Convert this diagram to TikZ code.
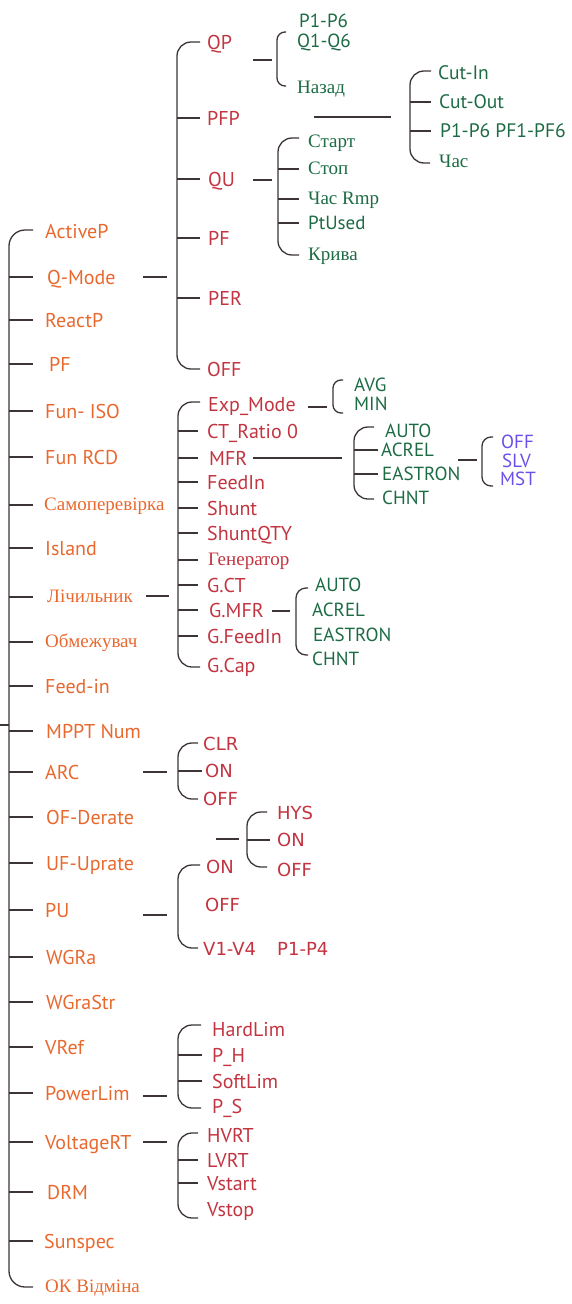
\documentclass[tikz,border=0pt]{standalone}
\usepackage{fontspec}
\setmainfont{PT Sans}
\newfontfamily\menuserif{Liberation Serif}
\newfontfamily\menuwide{DejaVu Sans}

\definecolor{optA}{HTML}{E8682E}
\definecolor{optB}{HTML}{C23440}
\definecolor{optC}{HTML}{1D6B44}
\definecolor{optD}{HTML}{6C4FE8}
\definecolor{brk}{HTML}{3D3535}

\begin{document}
\begin{tikzpicture}[x=1pt, y=-1pt,
    br/.style={draw=brk, line width=1.3pt, rounded corners=14pt},
    tk/.style={draw=brk, line width=1.3pt},
    lbl/.style={anchor=west, inner sep=0pt, text depth=0pt},
    fsans/.style={lbl, font=\fontsize{20}{24}\selectfont, text height=14pt},
    fsmall/.style={lbl, font=\fontsize{19}{23}\selectfont, text height=13.3pt},
    fserif/.style={lbl, font=\menuserif\fontsize{19}{22}\selectfont, text height=10pt},
    fwide/.style={lbl, font=\menuwide\fontsize{18}{22}\selectfont, text height=13pt},
    topitem/.style={fsans, text=optA},
    topserif/.style={fserif, text=optA},
    subitem/.style={fsans, text=optB},
    subserif/.style={fserif, text=optB},
    subwide/.style={fwide, text=optB},
    leaf/.style={fsmall, text=optC},
    leafserif/.style={fserif, text=optC},
    leafpur/.style={fsmall, text=optD}]

    \useasboundingbox (0,0) rectangle (572,1304);

    % top level menu
    \node[topitem] (actp) at (45,231) {ActiveP};
    \node[topitem] (qmode) at (47,277) {Q-Mode};
    \node[topitem] (reactp) at (45,320) {ReactP};
    \node[topitem] (pf) at (49,364) {PF};
    \node[topitem] (funiso) at (45,411) {Fun- ISO};
    \node[topitem] (funrcd) at (45,457) {Fun RCD};
    \node[topserif] (selft) at (44,505) {Самоперевірка};
    \node[topitem] (island) at (45,548) {Island};
    \node[topserif] (meter) at (47,597) {Лічильник};
    \node[topserif] (limit) at (45,642) {Обмежувач};
    \node[topitem] (feedin) at (45,686) {Feed-in};
    \node[topitem] (mppt) at (46,731) {MPPT Num};
    \node[topitem] (arc) at (45,772) {ARC};
    \node[topitem] (ofder) at (46,817) {OF-Derate};
    \node[topitem] (ufup) at (46,863) {UF-Uprate};
    \node[topitem] (pu) at (45,910) {PU};
    \node[topitem] (wgra) at (46,957) {WGRa};
    \node[topitem] (wgrastr) at (46,1002) {WGraStr};
    \node[topitem] (vref) at (45,1047) {VRef};
    \node[topitem] (plim) at (45,1093) {PowerLim};
    \node[topitem] (vrt) at (45,1142) {VoltageRT};
    \node[topitem] (drm) at (47,1192) {DRM};
    \node[topitem] (sunspec) at (44,1241) {Sunspec};
    \node[topserif] (okc) at (45,1287) {ОК Відміна};

    \coordinate (root) at (0,725);
    \coordinate (mbar) at (9,725);
    \coordinate (mT) at (33,230);
    \coordinate (mB) at (33,1287);
    \draw[br, rounded corners=16pt] (mT) -| (mbar |- mB) -- (mB);
    \draw[tk] (root) -- (mbar);
    \draw[tk] (mbar |- qmode.west) -- ++(24,0);
    \draw[tk] (mbar |- reactp.west) -- ++(24,0);
    \draw[tk] (mbar |- pf.west) -- ++(24,0);
    \draw[tk] (mbar |- funiso.west) -- ++(24,0);
    \draw[tk] (mbar |- funrcd.west) -- ++(24,0);
    \draw[tk] (mbar |- selft.west) -- ++(24,0);
    \draw[tk] (mbar |- island.west) -- ++(24,0);
    \draw[tk] (mbar |- meter.west) -- ++(24,0);
    \draw[tk] (mbar |- limit.west) -- ++(24,0);
    \draw[tk] (mbar |- feedin.west) -- ++(24,0);
    \draw[tk] (mbar |- mppt.west) -- ++(24,0);
    \draw[tk] (mbar |- arc.west) -- ++(24,0);
    \draw[tk] (mbar |- ofder.west) -- ++(24,0);
    \draw[tk] (mbar |- ufup.west) -- ++(24,0);
    \draw[tk] (mbar |- pu.west) -- ++(24,0);
    \draw[tk] (mbar |- wgra.west) -- ++(24,0);
    \draw[tk] (mbar |- wgrastr.west) -- ++(24,0);
    \draw[tk] (mbar |- vref.west) -- ++(24,0);
    \draw[tk] (mbar |- plim.west) -- ++(24,0);
    \draw[tk] (mbar |- vrt.west) -- ++(24,0);
    \draw[tk] (mbar |- drm.west) -- ++(24,0);
    \draw[tk] (mbar |- sunspec.west) -- ++(24,0);

    % Q-Mode
    \node[subitem] (qp) at (207,42) {QP};
    \node[subitem] (pfp) at (207,118) {PFP};
    \node[subitem] (qu) at (208,179) {QU};
    \node[subitem] (pfq) at (208,238) {PF};
    \node[subitem] (per) at (208,298) {PER};
    \node[subitem] (offq) at (207,369) {OFF};

    \coordinate (qmbar) at (177,277);
    \coordinate (qmT) at (200,42);
    \coordinate (qmB) at (200,369);
    \draw[tk] (qmbar) ++(-34,0) -- ++(24,0);
    \draw[br] (qmT) -| (qmbar |- qmB) -- (qmB);
    \draw[tk] (qmbar |- pfp.west) -- ++(23,0);
    \draw[tk] (qmbar |- qu.west) -- ++(23,0);
    \draw[tk] (qmbar |- pfq.west) -- ++(23,0);
    \draw[tk] (qmbar |- per.west) -- ++(23,0);

    % QP
    \node[leaf] (p16) at (299,21) {P1-P6};
    \node[leaf] (q16) at (297,41) {Q1-Q6};
    \node[leafserif] (back) at (297,88) {Назад};

    \coordinate (qpbar) at (277,60);
    \coordinate (qpT) at (286,32);
    \coordinate (qpB) at (286,86);
    \draw[tk] (qpbar) ++(-24,0) -- ++(19,0);
    \draw[br, rounded corners=8pt] (qpT) -| (qpbar |- qpB) -- (qpB);

    % PFP
    \node[leaf, font=\fontsize{19.5}{24}\selectfont] (cutin) at (438,73) {Cut-In};
    \node[leaf, font=\fontsize{19.5}{24}\selectfont] (cutout) at (439,102) {Cut-Out};
    \node[leaf, font=\fontsize{19.5}{24}\selectfont] (p6pf6) at (440,131) {P1-P6 PF1-PF6};
    \node[leafserif] (hour) at (439,162) {Час};

    \coordinate (pfpbar) at (410,117);
    \coordinate (pfpT) at (431,71);
    \coordinate (pfpB) at (430,163);
    \draw[tk] (pfpbar) ++(-96,0) -- ++(77,0);
    \draw[br] (pfpT) -| (pfpbar |- pfpB) -- (pfpB);
    \draw[tk] (pfpbar |- cutout.west) -- ++(21,0);
    \draw[tk] (pfpbar |- p6pf6.west) -- ++(21,0);

    % QU
    \node[leafserif] (start) at (308,142) {Старт};
    \node[leafserif] (stop) at (308,169) {Стоп};
    \node[leafserif] (hrmp) at (308,199) {Час Rmp};
    \node[leaf] (ptused) at (308,223) {PtUsed};
    \node[leafserif] (curve) at (308,255) {Крива};

    \coordinate (qubar) at (278,180);
    \coordinate (quT) at (299,138);
    \coordinate (quB) at (299,255);
    \draw[tk] (qubar) ++(-25,0) -- ++(19,0);
    \draw[br] (quT) -| (qubar |- quB) -- (quB);
    \draw[tk] (qubar |- stop.west) -- ++(21,0);
    \draw[tk] (qubar |- hrmp.west) -- ++(21,0);
    \draw[tk] (qubar |- ptused.west) -- ++(21,0);

    % Лічильник
    \node[subitem] (expm) at (208,404) {Exp\_Mode};
    \node[subitem] (ctr) at (207,431) {CT\_Ratio 0};
    \node[subitem] (mfr) at (209,458) {MFR};
    \node[subitem] (fdin) at (207,482) {FeedIn};
    \node[subitem] (shunt) at (207,508) {Shunt};
    \node[subitem] (shqty) at (207,533) {ShuntQTY};
    \node[subserif] (gen) at (208,560) {Генератор};
    \node[subitem] (gct) at (207,585) {G.CT};
    \node[subitem] (gmfr) at (209,610) {G.MFR};
    \node[subitem] (gfdin) at (207,636) {G.FeedIn};
    \node[subitem] (gcap) at (207,665) {G.Cap};

    \coordinate (mtbar) at (178,596);
    \coordinate (mtT) at (200,402);
    \coordinate (mtB) at (200,667);
    \draw[tk] (mtbar) ++(-32,0) -- ++(23,0);
    \draw[br] (mtT) -| (mtbar |- mtB) -- (mtB);
    \draw[tk] (mtbar |- ctr.west) -- ++(20,0);
    \draw[tk] (mtbar |- mfr.west) -- ++(20,0);
    \draw[tk] (mtbar |- fdin.west) -- ++(20,0);
    \draw[tk] (mtbar |- shunt.west) -- ++(20,0);
    \draw[tk] (mtbar |- shqty.west) -- ++(20,0);
    \draw[tk] (mtbar |- gen.west) -- ++(20,0);
    \draw[tk] (mtbar |- gct.west) -- ++(20,0);
    \draw[tk] (mtbar |- gmfr.west) -- ++(20,0);
    \draw[tk] (mtbar |- gfdin.west) -- ++(20,0);

    % Exp_Mode
    \node[leaf] (avg) at (354,385) {AVG};
    \node[leaf] (minv) at (354,404) {MIN};

    \coordinate (expbar) at (333,407);
    \coordinate (expT) at (343,380);
    \coordinate (expB) at (343,413);
    \draw[tk] (expbar) ++(-25,0) -- ++(19,0);
    \draw[br, rounded corners=8pt] (expT) -| (expbar |- expB) -- (expB);

    % MFR
    \node[leaf] (auto1) at (385,431) {AUTO};
    \node[leaf] (acrel1) at (381,450) {ACREL};
    \node[leaf] (eastr1) at (382,474) {EASTRON};
    \node[leaf] (chnt1) at (382,498) {CHNT};

    \coordinate (mfrbar) at (354,458);
    \coordinate (mfrT) at (374,427);
    \coordinate (mfrB) at (374,499);
    \draw[tk] (mfrbar) ++(-101,0) -- ++(89,0);
    \draw[br] (mfrT) -| (mfrbar |- mfrB) -- (mfrB);
    \draw[tk] (mfrbar |- acrel1.west) -- ++(24,0);
    \draw[tk] (mfrbar |- eastr1.west) -- ++(24,0);

    % ACREL
    \node[leafpur] (offm) at (501,442) {OFF};
    \node[leafpur] (slv) at (502,461) {SLV};
    \node[leafpur] (mst) at (500,479) {MST};

    \coordinate (acbar) at (482,460);
    \coordinate (acT) at (493,437);
    \coordinate (acB) at (493,486);
    \draw[tk] (acbar) ++(-24,0) -- ++(19,0);
    \draw[br, rounded corners=9pt] (acT) -| (acbar |- acB) -- (acB);

    % G.MFR
    \node[leaf] (auto2) at (315,585) {AUTO};
    \node[leaf] (acrel2) at (312,610) {ACREL};
    \node[leaf] (eastr2) at (313,635) {EASTRON};
    \node[leaf] (chnt2) at (312,659) {CHNT};

    \coordinate (gmbar) at (296,611);
    \coordinate (gmT) at (308,588);
    \coordinate (gmB) at (308,655);
    \draw[tk] (gmbar) ++(-24,0) -- ++(18,0);
    \draw[br, rounded corners=10pt] (gmT) -| (gmbar |- gmB) -- (gmB);

    % ARC
    \node[subwide] (clr) at (203,744) {CLR};
    \node[subwide] (ona) at (205,771) {ON};
    \node[subwide] (offa) at (203,799) {OFF};

    \coordinate (arcbar) at (178,772);
    \coordinate (arcT) at (198,743);
    \coordinate (arcB) at (198,799);
    \draw[tk] (arcbar) ++(-35,0) -- ++(24,0);
    \draw[br] (arcT) -| (arcbar |- arcB) -- (arcB);
    \draw[tk] (arcbar |- ona.west) -- ++(24,0);

    % HYS
    \node[subwide] (hys) at (277,813) {HYS};
    \node[subwide] (onh) at (277,840) {ON};
    \node[subwide] (offh) at (277,870) {OFF};

    \coordinate (hysbar) at (247,839);
    \coordinate (hysT) at (267,812);
    \coordinate (hysB) at (267,867);
    \draw[tk] (hysbar) ++(-31,0) -- ++(23,0);
    \draw[br] (hysT) -| (hysbar |- hysB) -- (hysB);
    \draw[tk] (hysbar |- onh.west) -- ++(23,0);

    % PU
    \node[subwide] (onp) at (206,867) {ON};
    \node[subwide] (offp) at (205,905) {OFF};
    \node[subwide] (v14) at (203,949) {V1-V4};
    \node[subwide] (p14) at (277,949) {P1-P4};

    \coordinate (pubar) at (178,915);
    \coordinate (puT) at (200,865);
    \coordinate (puB) at (198,948);
    \draw[tk] (pubar) ++(-35,0) -- ++(24,0);
    \draw[br] (puT) -| (pubar |- puB) -- (puB);

    % PowerLim
    \node[subitem] (hard) at (212,1029) {HardLim};
    \node[subitem] (ph) at (212,1055) {P\_H};
    \node[subitem] (soft) at (212,1081) {SoftLim};
    \node[subitem] (ps) at (212,1106) {P\_S};

    \coordinate (plbar) at (178,1096);
    \coordinate (plT) at (201,1025);
    \coordinate (plB) at (201,1108);
    \draw[tk] (plbar) ++(-35,0) -- ++(24,0);
    \draw[br] (plT) -| (plbar |- plB) -- (plB);
    \draw[tk] (plbar |- ph.west) -- ++(24,0);
    \draw[tk] (plbar |- soft.west) -- ++(24,0);

    % VoltageRT
    \node[subitem] (hvrt) at (207,1135) {HVRT};
    \node[subitem] (lvrt) at (207,1160) {LVRT};
    \node[subitem] (vstart) at (207,1183) {Vstart};
    \node[subitem] (vstop) at (207,1209) {Vstop};

    \coordinate (vrtbar) at (178,1142);
    \coordinate (vrtT) at (198,1133);
    \coordinate (vrtB) at (198,1218);
    \draw[tk] (vrtbar) ++(-35,0) -- ++(24,0);
    \draw[br] (vrtT) -| (vrtbar |- vrtB) -- (vrtB);
    \draw[tk] (vrtbar |- lvrt.west) -- ++(20,0);
    \draw[tk] (vrtbar |- vstart.west) -- ++(20,0);

\end{tikzpicture}
\end{document}
